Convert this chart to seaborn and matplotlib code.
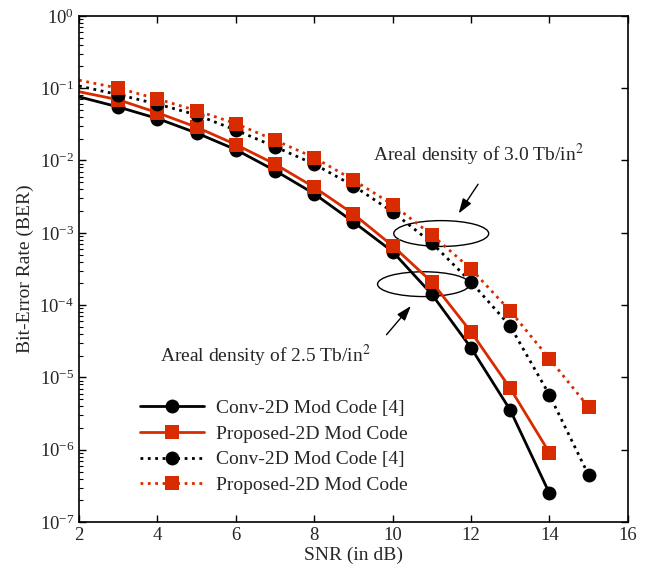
import numpy as np
import pandas as pd
import matplotlib
matplotlib.use("Agg")
import matplotlib.pyplot as plt
from matplotlib.patches import Ellipse
import seaborn as sns

sns.set_style("ticks")
plt.rcParams['font.family'] = ['Liberation Serif', 'DejaVu Serif']
plt.rcParams['mathtext.fontset'] = 'stix'
plt.rcParams['xtick.direction'] = 'in'
plt.rcParams['ytick.direction'] = 'in'

# ---------- DATA ----------
snr_a = [2, 3, 4, 5, 6, 7, 8, 9, 10, 11, 12, 13, 14]
snr_b = [2, 3, 4, 5, 6, 7, 8, 9, 10, 11, 12, 13, 14, 15]

# log10(BER)
conv_25 = [-1.12, -1.26, -1.42, -1.62, -1.85, -2.14, -2.46, -2.85, -3.26, -3.85, -4.59, -5.45, -6.60]
prop_25 = [-1.05, -1.16, -1.34, -1.54, -1.78, -2.05, -2.37, -2.74, -3.18, -3.68, -4.37, -5.15, -6.04]
conv_30 = [-0.97, -1.09, -1.22, -1.37, -1.58, -1.81, -2.05, -2.35, -2.71, -3.14, -3.68, -4.29, -5.24, -6.35]
prop_30 = [-0.89, -1.00, -1.15, -1.31, -1.49, -1.72, -1.96, -2.27, -2.61, -3.03, -3.50, -4.08, -4.74, -5.41]

labels = ["Conv-2D Mod Code [4]", "Proposed-2D Mod Code",
          "Conv-2D Mod Code [4]", "Proposed-2D Mod Code"]

RED = "#d92b00"

fig = plt.figure(figsize=(6.7, 5.86), dpi=100)
ax = fig.add_axes([0.118, 0.109, 0.819, 0.864])

series = [
    (snr_a, conv_25, "black", "-", "o", 10),
    (snr_a, prop_25, RED, "-", "s", 9.5),
    (snr_b, conv_30, "black", ":", "o", 10),
    (snr_b, prop_30, RED, ":", "s", 9.5),
]

handles = []
for (x, y, c, ls, mk, ms), lab in zip(series, labels):
    df = pd.DataFrame({"snr": x, "ber": 10.0 ** np.array(y)})
    sns.lineplot(data=df, x="snr", y="ber", ax=ax, color=c, linestyle=ls,
                 linewidth=2, marker=mk, markersize=ms, markeredgewidth=0,
                 markevery=list(range(1, len(x))), label=lab, legend=False)
    handles.append(ax.lines[-1])

ax.set_yscale("log")
ax.set_xlim(2, 16)
ax.set_ylim(1e-7, 1e0)
ax.set_xticks(range(2, 17, 2))
ax.set_yticks([10.0 ** k for k in range(-7, 1)])
ax.tick_params(which="both", top=True, right=True, labelsize=13.5, color="black")
ax.tick_params(which="major", length=5, width=1)
ax.tick_params(which="minor", length=3, width=0.8)
ax.tick_params(axis="y", which="minor", right=False)
for s in ax.spines.values():
    s.set_color("black")
    s.set_linewidth(1.2)

ax.set_xlabel("SNR (in dB)", fontsize=14, labelpad=2)
ax.set_ylabel("Bit-Error Rate (BER)", fontsize=14, labelpad=4)

# ---------- ANNOTATIONS ----------
ax.add_patch(Ellipse((0.660, 0.570), 0.173, 0.051, transform=ax.transAxes,
                     fill=False, edgecolor="black", linewidth=1))
ax.add_patch(Ellipse((0.628, 0.470), 0.168, 0.049, transform=ax.transAxes,
                     fill=False, edgecolor="black", linewidth=1))

ax.annotate("", xy=(0.689, 0.605), xytext=(0.730, 0.672), xycoords="axes fraction",
            arrowprops=dict(arrowstyle="-|>,head_length=0.9,head_width=0.3",
                            color="black", lw=1))
ax.annotate("", xy=(0.608, 0.431), xytext=(0.557, 0.366), xycoords="axes fraction",
            arrowprops=dict(arrowstyle="-|>,head_length=0.9,head_width=0.3",
                            color="black", lw=1))

ax.text(0.536, 0.700, r"Areal density of 3.0 Tb/in$^2$", transform=ax.transAxes,
        fontsize=14, ha="left", va="bottom")
ax.text(0.148, 0.303, r"Areal density of 2.5 Tb/in$^2$", transform=ax.transAxes,
        fontsize=14, ha="left", va="bottom")

ax.legend(handles=handles, labels=labels, loc="upper left",
          bbox_to_anchor=(0.097, 0.258), frameon=False, fontsize=14,
          handlelength=3.3, handletextpad=0.6, labelspacing=0.42,
          borderaxespad=0)

fig.savefig("out.png", dpi=100)
